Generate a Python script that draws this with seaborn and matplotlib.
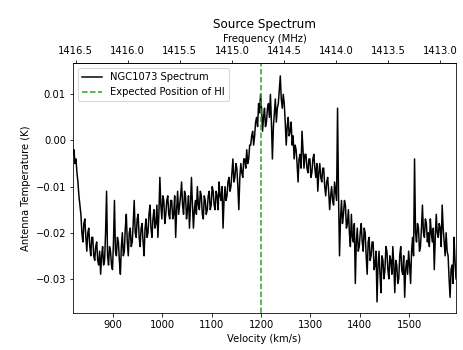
import numpy as np
import pandas as pd
import matplotlib
matplotlib.use("Agg")
import matplotlib.pyplot as plt
import seaborn as sns

# Velocity channels (km/s)
velocity = np.arange(819, 1596, 2)

# Antenna temperature (K)
temperature = [
    -0.003, -0.002, -0.005, -0.004, -0.007, -0.009, -0.012, -0.014, -0.016, -0.020,
    -0.022, -0.018, -0.017, -0.021, -0.024, -0.020, -0.019, -0.023, -0.025, -0.021,
    -0.021, -0.025, -0.026, -0.023, -0.022, -0.026, -0.027, -0.024, -0.029, -0.025,
    -0.023, -0.027, -0.026, -0.020, -0.011, -0.025, -0.027, -0.023, -0.024, -0.027,
    -0.028, -0.022, -0.013, -0.024, -0.025, -0.021, -0.022, -0.026, -0.029, -0.023,
    -0.020, -0.025, -0.024, -0.019, -0.016, -0.022, -0.025, -0.020, -0.019, -0.023,
    -0.022, -0.018, -0.013, -0.020, -0.021, -0.017, -0.016, -0.021, -0.023, -0.019,
    -0.018, -0.022, -0.025, -0.019, -0.017, -0.021, -0.020, -0.016, -0.014, -0.019,
    -0.021, -0.017, -0.015, -0.019, -0.018, -0.014, -0.021, -0.016, -0.008, -0.014,
    -0.017, -0.012, -0.013, -0.018, -0.016, -0.013, -0.012, -0.016, -0.017, -0.013,
    -0.013, -0.017, -0.016, -0.012, -0.021, -0.015, -0.011, -0.016, -0.014, -0.012,
    -0.009, -0.014, -0.016, -0.011, -0.012, -0.017, -0.015, -0.012, -0.019, -0.014,
    -0.008, -0.014, -0.019, -0.015, -0.013, -0.016, -0.010, -0.014, -0.015, -0.011,
    -0.012, -0.016, -0.017, -0.012, -0.013, -0.016, -0.015, -0.012, -0.011, -0.015,
    -0.014, -0.010, -0.011, -0.014, -0.015, -0.011, -0.012, -0.015, -0.009, -0.012,
    -0.013, -0.010, -0.019, -0.013, -0.010, -0.013, -0.012, -0.009, -0.008, -0.011,
    -0.010, -0.007, -0.004, -0.009, -0.008, -0.005, -0.006, -0.010, -0.015, -0.008,
    -0.005, -0.007, -0.008, -0.004, -0.004, -0.006, -0.002, -0.005, -0.004, -0.001,
    -0.001, 0.001, 0.002, -0.001, 0.001, 0.004, 0.005, 0.003, 0.008, 0.006,
    0.010, 0.007, 0.002, 0.005, 0.007, 0.003, 0.004, 0.007, 0.008, 0.005,
    0.010, 0.004, -0.004, 0.003, 0.006, 0.009, 0.004, 0.007, 0.008, 0.011,
    0.014, 0.009, 0.007, 0.010, 0.008, 0.004, -0.001, 0.003, 0.005, 0.001,
    0.002, 0.004, -0.001, 0.001, -0.004, -0.001, -0.002, -0.005, -0.009, -0.004,
    -0.003, -0.006, 0.002, -0.002, -0.006, -0.003, -0.003, -0.006, -0.007, -0.004,
    -0.004, -0.008, -0.007, -0.004, -0.003, -0.006, -0.008, -0.005, -0.011, -0.007,
    -0.005, -0.008, -0.009, -0.006, -0.006, -0.010, -0.012, -0.009, -0.008, -0.011,
    -0.015, -0.012, -0.010, -0.013, -0.014, -0.009, -0.011, -0.013, 0.007, -0.012,
    -0.025, -0.017, -0.013, -0.018, -0.016, -0.013, -0.014, -0.019, -0.018, -0.015,
    -0.020, -0.023, -0.016, -0.021, -0.022, -0.018, -0.031, -0.022, -0.019, -0.024,
    -0.023, -0.020, -0.018, -0.022, -0.024, -0.019, -0.020, -0.025, -0.029, -0.022,
    -0.021, -0.026, -0.025, -0.022, -0.022, -0.028, -0.027, -0.024, -0.035, -0.027,
    -0.024, -0.029, -0.033, -0.025, -0.026, -0.030, -0.028, -0.023, -0.024, -0.028,
    -0.030, -0.025, -0.026, -0.029, -0.023, -0.027, -0.033, -0.026, -0.027, -0.031,
    -0.030, -0.025, -0.023, -0.028, -0.029, -0.025, -0.034, -0.028, -0.026, -0.029,
    -0.024, -0.027, -0.031, -0.024, -0.021, -0.025, -0.004, -0.020, -0.022, -0.018,
    -0.019, -0.024, -0.023, -0.019, -0.014, -0.020, -0.021, -0.017, -0.018, -0.022,
    -0.020, -0.023, -0.017, -0.020, -0.022, -0.019, -0.028, -0.021, -0.016, -0.020,
    -0.021, -0.018, -0.019, -0.023, -0.014, -0.019, -0.022, -0.025, -0.020, -0.024,
    -0.025, -0.030, -0.034, -0.028, -0.027, -0.031, -0.021, -0.026, -0.030,
]

hi_velocity = 1200
f0 = 1420.405752  # MHz
c = 299792.458    # km/s

df = pd.DataFrame({"velocity": velocity, "temperature": temperature})

fig = plt.figure(figsize=(463 / 72, 350 / 72), dpi=72)
ax = fig.add_axes([73 / 463, 37 / 350, 383 / 463, 250 / 350])

sns.lineplot(data=df, x="velocity", y="temperature", ax=ax, color="black",
             linewidth=1.5, label="NGC1073 Spectrum")
ax.axvline(hi_velocity, color="tab:green", linestyle="--", linewidth=1.5,
           label="Expected Position of HI")

ax.set_xlim(819, 1595)
ax.set_ylim(-0.0374, 0.0168)
ax.set_xlabel("Velocity (km/s)")
ax.set_ylabel("Antenna Temperature (K)")
ax.legend(loc="upper left")


def v2f(v):
    return f0 * (1 - np.asarray(v) / c)


def f2v(f):
    return c * (1 - np.asarray(f) / f0)


sec = ax.secondary_xaxis("top", functions=(v2f, f2v))
sec.set_xlabel("Frequency (MHz)")
ax.set_title("Source Spectrum")

fig.savefig("out.png", dpi=72)
